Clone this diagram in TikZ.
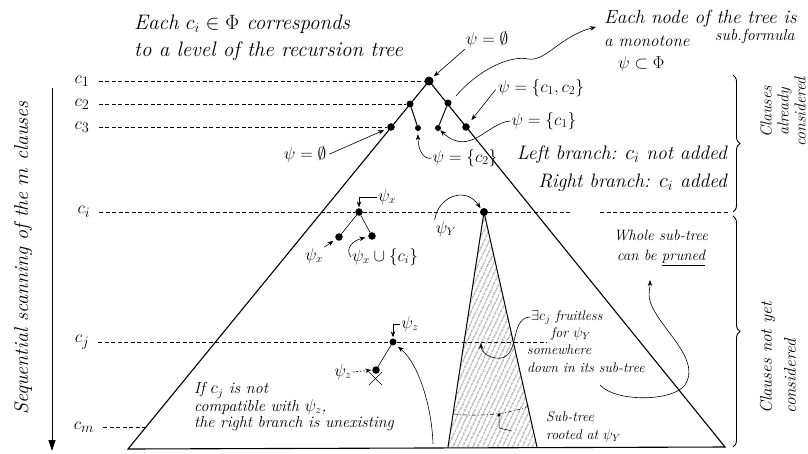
\documentclass[tikz,border=0pt]{standalone}
\usepackage{amssymb}
\usetikzlibrary{arrows.meta,decorations.pathreplacing,patterns.meta,calc}
\begin{document}
\begin{tikzpicture}[x=1pt,y=-1pt,
  fs/.style n args={2}{font=\fontsize{#1}{#2}\selectfont\itshape, inner sep=1pt},
  tri/.style={line width=1.1pt},
  lvl/.style={line width=0.6pt, dash pattern=on 4pt off 2.5pt},
  bigdot/.style={circle,fill,inner sep=0pt,minimum size=9pt},
  middot/.style={circle,fill,inner sep=0pt,minimum size=7pt},
  ringdot/.style={circle,draw,line width=1.4pt,fill=black,inner sep=0pt,minimum size=6pt},
  ptr/.style={-{Stealth[length=6pt,width=4.5pt]},line width=0.6pt},
  brc/.style={decorate,decoration={brace,amplitude=7pt},line width=0.9pt}]
\useasboundingbox (0,0) rectangle (808,453);
\fill[white] (0,0) rectangle (808,453);

% big triangle
\coordinate (apex) at (429,81);
\coordinate (bl) at (128,449);
\coordinate (br) at (725,447);

% shaded sub-tree
\node[bigdot,minimum size=8pt] (pY) at (484,212) {};
\coordinate (sbl) at (448,447);
\coordinate (sbr) at (537,447);
\fill[pattern={Lines[angle=65,distance=4pt,line width=0.6pt]},pattern color=black!70] (pY.center) -- (sbl) -- (sbr) -- cycle;
\draw[line width=1pt] (sbl) -- (pY.center) -- (sbr);

\draw[tri] (bl) -- (apex) -- (br) -- cycle;

% top tree
\node[bigdot] (root) at (apex) {};
\node[middot] (nL) at (410,104) {};
\node[middot] (nR) at (448,103) {};
\node[ringdot] (nLL) at (391,127) {};
\node[middot,minimum size=6pt] (nLR) at (418,128) {};
\node[middot,minimum size=6pt] (nRL) at (438,128) {};
\node[ringdot] (nRR) at (466,127) {};
\draw[line width=1pt] (nL) -- (nLR);
\draw[line width=1pt] (nR) -- (nRL);

% level labels
\node[fs={19}{21}] (lc1) at (82,81) {$c_1$};
\node[fs={19}{21}] (lc2) at (82,104) {$c_2$};
\node[fs={19}{21}] (lc3) at (82,127) {$c_3$};
\node[fs={19}{21}] (lci) at (84,212) {$c_i$};
\node[fs={19}{21}] (lcj) at (82,342) {$c_j$};
\node[fs={19}{21}] (lcm) at (84,427) {$c_m$};

% ci level nodes
\node[ringdot] (px) at (359,212) {};
\node[ringdot] (pxl) at (339,237) {};
\node[ringdot] (pxr) at (372,236) {};
\draw[line width=0.6pt] (px) -- (pxl);
\draw[line width=0.6pt] (px) -- (pxr);

% cj level nodes
\node[middot] (pZ) at (393,342) {};
\node[ringdot] (pZl) at (376,370) {};
\draw[line width=0.6pt] (pZ) -- (pZl);
\coordinate (xa) at (369,372); \coordinate (xb) at (382,385);
\coordinate (xc) at (382,372); \coordinate (xd) at (369,385);
\draw[line width=0.6pt] (xa) -- (xb);
\draw[line width=0.6pt] (xc) -- (xd);

% dashed level lines
\draw[lvl,shorten <=8pt] (lc1.east) -- (root);
\draw[lvl,shorten <=8pt] (lc2.east) -- (nL);
\draw[lvl,shorten <=8pt] (lc3.east) -- (nLL);
\coordinate (ciA) at (572,212);
\coordinate (ciB) at (600,212);
\coordinate (ciC) at (728,212);
\draw[lvl,shorten <=8pt] (lci.east) -- (px);
\draw[lvl] (px) -- (pY);
\draw[lvl] (pY) -- (ciA);
\draw[lvl] (ciB) -- (ciC);
\coordinate (cjE) at (547,342);
\draw[lvl,shorten <=8pt] (lcj.east) -- (pZ);
\draw[lvl] (pZ) -- (cjE);
\coordinate (cmE) at (146,427);
\draw[lvl,shorten <=8pt] (lcm.east) -- (cmE);

% left axis
\coordinate (aTop) at (52,88);
\coordinate (aBot) at (52,451);
\draw[line width=0.8pt,-{Triangle[length=11pt,width=7pt]}] (aTop) -- (aBot);
\node[fs={20}{22},rotate=90] (seq) at (23,258) {Sequential scanning of the $m$ clauses};

% braces
\draw[brc] (733,75) -- (733,212);
\draw[brc] (733,216) -- (733,447);
\node[fs={16}{17},rotate=90,align=center] (already) at (783,112) {Clauses\\already\\considered};
\node[fs={17}{24},rotate=90,align=left] (notyet) at (778,358) {Clauses not yet\\considered};

% top texts
\node[fs={21}{27},align=left,anchor=west] (topt) at (133,38) {Each $c_i\in\Phi$ corresponds\\to a level of the recursion tree};
\node[fs={19}{21},anchor=west] (eachnode) at (603,19) {Each node of the tree is};
\node[fs={17}{19},anchor=west] (monotone) at (603,41) {a monotone};
\node[fs={16}{18},anchor=west] (subf) at (714,36) {sub.formula};
\node[fs={18}{20},anchor=west,inner sep=0pt] (psisub) at (618,64) {$\psi\subset\Phi$};
\coordinate (wigS) at (456,96);
\coordinate (wigE) at (596,27);
\draw[ptr] (wigS) .. controls (478,70) and (510,55) .. (528,59) .. controls (546,62) and (560,36) .. (wigE);

% psi labels top tree
\node[fs={19}{21}] (psi0) at (487,40) {$\psi=\emptyset$};
\draw[ptr,shorten >=2pt] (psi0.south west) -- (root.north east);
\node[fs={18}{20}] (psi12) at (541,88) {$\psi=\{c_1,c_2\}$};
\draw[ptr,shorten <=2pt,shorten >=5pt] (psi12.west) -- (nRR);
\node[fs={18}{20}] (psi1) at (544,121) {$\psi=\{c_1\}$};
\draw[ptr] (psi1.west) .. controls (488,122) and (470,158) .. (nRL.south east);
\node[fs={18}{20}] (psi2) at (465,158) {$\psi=\{c_2\}$};
\draw[ptr,shorten >=3pt] (psi2.west) .. controls (425,160) and (418,152) .. (nLR.south);
\node[fs={18}{20}] (psie) at (305,155) {$\psi=\emptyset$};
\draw[ptr,shorten <=2pt,shorten >=4pt] (psie.east) -- (nLL);

\node[fs={19.5}{28},align=right,anchor=east] (branch) at (728,169) {Left branch: $c_i$ not added\\Right branch: $c_i$ added};

% ci labels
\node[fs={16}{18}] (lpx) at (387,197) {$\psi_x$};
\draw[ptr,shorten >=1pt] (lpx.west) -| (px.north);
\node[fs={16}{18}] (lpxl) at (314,256) {$\psi_x$};
\draw[ptr,shorten >=3pt] (lpxl.north east) .. controls (326,246) .. (pxl);
\node[fs={16}{18}] (lpxr) at (385,257) {$\psi_x\cup\{c_i\}$};
\draw[ptr,shorten >=3pt] (lpxr.west) .. controls (344,247) and (355,240) .. (pxr);

\node[fs={16}{18}] (lpY) at (446,229) {$\psi_Y$};
\draw[ptr,shorten >=1pt] (lpY.north west) .. controls (438,196) and (466,186) .. (pY.north west);

% cj labels
\node[fs={16}{18}] (lpZ) at (410,324) {$\psi_z$};
\draw[ptr,shorten >=1pt] (lpZ.west) -| (pZ.north);
\node[fs={16}{18}] (lpZl) at (343,372) {$\psi_z$};
\draw[ptr,dash pattern=on 2pt off 1.5pt,shorten >=1pt] (lpZl.east) -- (pZl.west);
\node[fs={16}{16.5},align=left,anchor=north west] (ifcj) at (193,381) {If $c_j$ is not\\compatible with $\psi_z$,\\the right branch is unexisting};
\coordinate (ifS) at (433,444);
\draw[ptr,shorten >=3pt] (ifS) .. controls (432,410) and (420,365) .. (pZ.south east);

% sub-tree annotations
\draw[line width=0.5pt,dash pattern=on 4pt off 2pt on 1pt off 2pt] (454,414) .. controls (480,417) and (510,414) .. (529,406);
\node[circle,fill,inner sep=0pt,minimum size=3.5pt] (sdot) at (499,415) {};
\coordinate (sl1) at (499,428);
\coordinate (sl2) at (512,431);
\draw[line width=0.5pt] (sdot) -- (sl1) -- (sl2);
\node[fs={14}{18},align=left,anchor=west] (subl) at (545,427) {Sub-tree\\rooted at $\psi_Y$};

\node[fs={14}{17.3},align=left,anchor=north west] (fruit) at (526,309) {\hspace*{4pt}$\exists c_j$ fruitless\\\hspace*{24pt}for $\psi_Y$\\somewhere\\down in its sub-tree};
\coordinate (frS) at (530,317);
\draw[ptr] (frS) .. controls (508,318) and (522,362) .. (495,358) .. controls (485,356) and (481,350) .. (481,343);

\node[fs={15}{20},align=center] (whole) at (661,248) {Whole sub-tree\\can be \underline{pruned}};
\coordinate (wS) at (600,385);
\coordinate (wE) at (650,280);
\draw[ptr] (wS) .. controls (615,402) and (672,402) .. (685,385) .. controls (700,362) and (668,335) .. (655,312) .. controls (646,297) and (650,292) .. (wE);
\end{tikzpicture}
\end{document}
